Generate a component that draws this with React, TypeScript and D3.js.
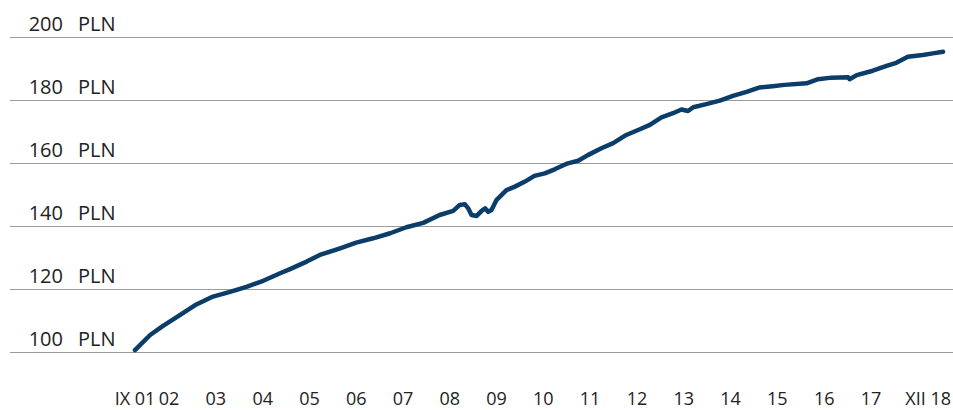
import React from "react";
import * as d3 from "d3";

const dates: string[] = [
  "2001-09-01", "2001-12-28", "2002-04-08", "2002-08-17", "2002-12-24",
  "2003-05-03", "2003-09-13", "2004-01-19", "2004-05-29", "2004-10-08",
  "2004-12-24", "2005-05-03", "2005-08-14", "2006-01-19", "2006-05-25",
  "2006-10-04", "2007-02-14", "2007-06-20", "2007-10-30", "2008-03-06",
  "2008-06-20", "2008-08-10", "2008-09-20", "2008-10-15", "2008-11-10",
  "2008-12-20", "2009-01-30", "2009-02-25", "2009-03-20", "2009-04-15",
  "2009-05-25", "2009-08-10", "2009-10-15", "2010-01-01", "2010-03-16",
  "2010-06-05", "2010-08-21", "2010-12-02", "2011-02-21", "2011-05-07",
  "2011-08-21", "2011-11-21", "2012-03-02", "2012-06-16", "2012-09-02",
  "2012-12-02", "2013-03-02", "2013-05-07", "2013-06-27", "2013-08-07",
  "2013-11-17", "2014-03-02", "2014-06-13", "2014-09-27", "2015-01-08",
  "2015-04-19", "2015-07-19", "2016-01-08", "2016-04-08", "2016-07-19",
  "2016-11-28", "2016-12-09", "2017-02-03", "2017-06-09", "2017-09-24",
  "2017-12-09", "2018-03-09", "2018-07-04", "2018-09-20", "2018-12-09",
];

const values: number[] = [
  100.6, 105.4, 108.3, 111.7, 115.1,
  117.6, 119.1, 120.7, 122.6, 125.0,
  126.3, 128.7, 130.8, 132.9, 134.7,
  136.1, 137.7, 139.6, 141.0, 143.5,
  144.8, 146.7, 146.9, 145.6, 143.5,
  143.2, 144.9, 145.6, 144.5, 145.1,
  148.3, 151.4, 152.5, 154.1, 155.9,
  156.7, 158.0, 159.9, 160.7, 162.5,
  164.7, 166.3, 168.9, 170.7, 172.1,
  174.5, 175.8, 177.0, 176.5, 177.7,
  178.7, 179.8, 181.3, 182.6, 184.0,
  184.4, 184.8, 185.3, 186.6, 187.1,
  187.2, 186.6, 187.9, 189.3, 190.8,
  191.8, 193.7, 194.3, 194.8, 195.3,
];

const yTicks: number[] = [100, 120, 140, 160, 180, 200];
const yUnit = "PLN";

const xLabels: string[] = [
  "IX 01", "02", "03", "04", "05", "06", "07", "08", "09",
  "10", "11", "12", "13", "14", "15", "16", "17", "XII 18",
];
const xLabelDates: string[] = [
  "2001-09-01", "2002-05-25", "2003-05-25", "2004-05-25", "2005-05-25",
  "2006-05-25", "2007-05-25", "2008-05-25", "2009-05-25", "2010-05-25",
  "2011-05-25", "2012-05-25", "2013-05-25", "2014-05-25", "2015-05-25",
  "2016-05-25", "2017-05-25", "2018-08-15",
];

const W = 953;
const H = 410;
const parse = d3.utcParse("%Y-%m-%d");

export default function App() {
  const x = d3
    .scaleUtc()
    .domain([parse("2001-09-01")!, parse("2019-01-01")!])
    .range([135, 946]);
  const y = d3.scaleLinear().domain([100, 200]).range([352, 37]);

  const data = dates.map((d, i) => ({ t: parse(d)!, v: values[i] }));
  const line = d3
    .line<{ t: Date; v: number }>()
    .x((d) => x(d.t))
    .y((d) => y(d.v));

  const font = "'Open Sans', sans-serif";

  return (
    <svg
      width={W}
      height={H}
      style={{ position: "absolute", left: 0, top: 0, background: "#fff" }}
    >
      {yTicks.map((t) => (
        <g key={t}>
          <line
            x1={10}
            x2={W}
            y1={Math.round(y(t)) + 0.5}
            y2={Math.round(y(t)) + 0.5}
            stroke="#9b9b9b"
            strokeWidth={1}
          />
          <text
            x={63}
            y={y(t) - 6}
            textAnchor="end"
            fontFamily={font}
            fontSize={20}
            fill="#222"
          >
            {t}
          </text>
          <text
            x={78}
            y={y(t) - 6}
            textAnchor="start"
            fontFamily={font}
            fontSize={20}
            fill="#222"
          >
            {yUnit}
          </text>
        </g>
      ))}
      {xLabels.map((l, i) => (
        <text
          key={l}
          x={x(parse(xLabelDates[i])!)}
          y={405}
          textAnchor="middle"
          fontFamily={font}
          fontSize={18}
          fill="#222"
        >
          {l}
        </text>
      ))}
      <path
        d={line(data) || ""}
        fill="none"
        stroke="#0b3d6b"
        strokeWidth={4.5}
        strokeLinejoin="round"
        strokeLinecap="round"
      />
    </svg>
  );
}
